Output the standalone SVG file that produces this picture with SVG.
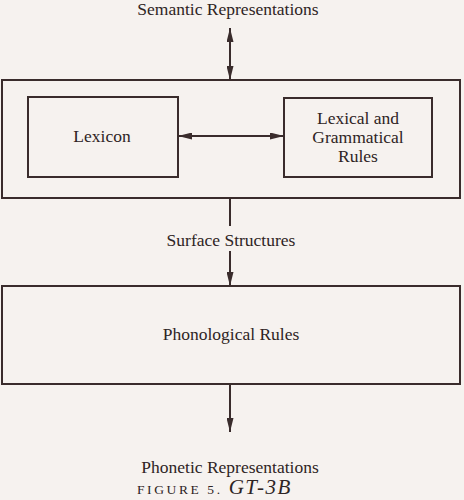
<svg xmlns="http://www.w3.org/2000/svg" width="464" height="500" viewBox="0 0 464 500">
<defs>
<style>
.box{fill:none;stroke:#3a2c2c;stroke-width:2}
.ln{stroke:#3a2c2c;stroke-width:2;fill:none}
.t{font-family:'Liberation Serif','Times New Roman',serif;font-size:17.5px;fill:#2e2424;text-anchor:middle}
.cap{font-family:'Liberation Serif','Times New Roman',serif;font-size:13.5px;fill:#2e2424;letter-spacing:2.6px}
</style>
<marker id="ah" viewBox="0 0 16 8" refX="16" refY="4" markerWidth="16" markerHeight="7" markerUnits="userSpaceOnUse" orient="auto-start-reverse">
<path d="M0,0 L16,4 L0,8 Z" fill="#3a2c2c"/>
</marker>
</defs>
<rect width="464" height="500" fill="#f6f2ef"/>
<text class="t" x="228" y="15">Semantic Representations</text>
<g id="outer">
<rect class="box" x="2" y="80" width="458" height="118"/>
</g>
<g id="lexicon">
<rect class="box" x="28" y="97" width="150" height="80"/>
<text class="t" x="102" y="142">Lexicon</text>
</g>
<g id="rules">
<rect class="box" x="284" y="98" width="148" height="79"/>
<text class="t" x="358" y="124">Lexical and</text>
<text class="t" x="358" y="143">Grammatical</text>
<text class="t" x="358" y="162">Rules</text>
</g>
<g id="surface">
<text class="t" x="231" y="246">Surface Structures</text>
</g>
<g id="phonological">
<rect class="box" x="2" y="286" width="458" height="98"/>
<text class="t" x="231" y="340">Phonological Rules</text>
</g>
<g id="phonetic">
<text class="t" x="230" y="473">Phonetic Representations</text>
</g>
<text class="cap" x="137" y="494">FIGURE 5. <tspan font-style="italic" font-size="21" letter-spacing="1.5">GT-3B</tspan></text>
<g id="connectors">
<line class="ln" x1="230" y1="28" x2="230" y2="80" marker-start="url(#ah)" marker-end="url(#ah)"/>
<line class="ln" x1="178" y1="136" x2="284" y2="136" marker-start="url(#ah)" marker-end="url(#ah)"/>
<line class="ln" x1="230" y1="198" x2="230" y2="226"/>
<line class="ln" x1="230" y1="251" x2="230" y2="286" marker-end="url(#ah)"/>
<line class="ln" x1="230" y1="384" x2="230" y2="432" marker-end="url(#ah)"/>
</g>
</svg>
